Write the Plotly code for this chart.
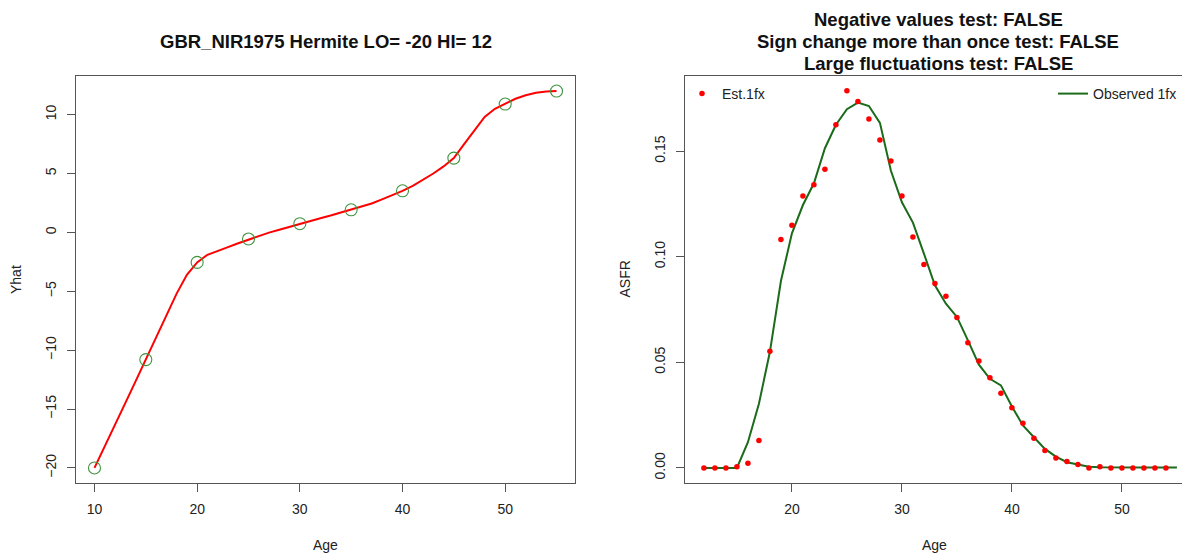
import plotly.graph_objects as go

# ---------------- data ----------------
# Left panel: knots (green circles) and Hermite curve (red)
knot_age = [10, 15, 20, 25, 30, 35, 40, 45, 50, 55]
knot_yhat = [-20.0, -10.8, -2.55, -0.56, 0.74, 1.92, 3.53, 6.31, 10.9, 12.0]

curve_age = list(range(10, 56))
curve_yhat = [-20.0, -18.2, -16.3, -14.5, -12.65, -10.8, -8.95, -7.1, -5.2, -3.6,
              -2.55, -1.9, -1.55, -1.25, -0.92, -0.6, -0.3, -0.02, 0.22, 0.48,
              0.74, 0.97, 1.2, 1.43, 1.67, 1.92, 2.15, 2.45, 2.8, 3.15,
              3.53, 3.95, 4.45, 5.0, 5.6, 6.31, 7.5, 8.7, 9.8, 10.5,
              10.9, 11.35, 11.65, 11.85, 11.97, 12.0]

# Right panel: estimated (red points) and observed (green line) ASFR
est_age = list(range(12, 55))
est_asfr = [0.0, 0.0, 0.0, 0.0005, 0.0022, 0.0130, 0.0552, 0.1082, 0.1149, 0.1288,
            0.1341, 0.1414, 0.1625, 0.1786, 0.1735, 0.1652, 0.1553, 0.1454, 0.1288, 0.1094,
            0.0963, 0.0873, 0.0813, 0.0712, 0.0593, 0.0506, 0.0427, 0.0354, 0.0285, 0.0212,
            0.0140, 0.0082, 0.0047, 0.0030, 0.0016, 0.0, 0.0005, 0.0, 0.0, 0.0,
            0.0, 0.0, 0.0]

obs_age = list(range(12, 56))
obs_asfr = [0.0, 0.0, 0.0, 0.0, 0.0122, 0.0304, 0.0550, 0.0885, 0.1111, 0.1245,
            0.1348, 0.1514, 0.1625, 0.1699, 0.1730, 0.1714, 0.1634, 0.1407, 0.1258, 0.1162,
            0.1015, 0.0865, 0.0778, 0.0715, 0.0604, 0.0489, 0.0422, 0.0391, 0.0291, 0.0201,
            0.0145, 0.0090, 0.0054, 0.0027, 0.0016, 0.0006, 0.0003, 0.0002, 0.0002, 0.0002,
            0.0002, 0.0002, 0.0002, 0.0002]

left_title = "GBR_NIR1975 Hermite LO= -20 HI= 12"
right_title = ["Negative values test: FALSE",
               "Sign change more than once test: FALSE",
               "Large fluctuations test: FALSE"]

# ---------------- layout geometry ----------------
W, H = 1182, 556
FONT = "Liberation Sans, Arial, sans-serif"
AX = "#555555"
TXT = "#222222"

def px_x(p):
    return p / W

def px_y(p):
    return 1 - p / H

box_top, box_bot = 76, 483
L0, L1 = 76, 575
R0 = 685

fig = go.Figure()

fig.add_trace(go.Scatter(x=curve_age, y=curve_yhat, mode="lines",
                         line=dict(color="#ff0000", width=2),
                         xaxis="x", yaxis="y", showlegend=False))
fig.add_trace(go.Scatter(x=knot_age, y=knot_yhat, mode="markers",
                         marker=dict(symbol="circle-open", size=12,
                                     color="#3f943f", line=dict(width=1.1)),
                         xaxis="x", yaxis="y", showlegend=False))

fig.add_trace(go.Scatter(x=obs_age, y=obs_asfr, mode="lines", name="Observed 1fx",
                         line=dict(color="#1b6b1b", width=2),
                         xaxis="x2", yaxis="y2", legend="legend2"))
fig.add_trace(go.Scatter(x=est_age, y=est_asfr, mode="markers", name="Est.1fx",
                         marker=dict(symbol="circle", size=5.5, color="#ff0000"),
                         xaxis="x2", yaxis="y2", legend="legend"))

axis_common = dict(showgrid=False, zeroline=False, showline=True, linecolor=AX,
                   linewidth=1, ticks="outside", ticklen=8, tickcolor=AX,
                   ticklabelstandoff=5,
                   tickfont=dict(family=FONT, size=14, color=TXT))

fig.update_layout(
    width=W, height=H,
    margin=dict(l=0, r=0, t=0, b=0),
    paper_bgcolor="white", plot_bgcolor="white",
    font=dict(family=FONT, color=TXT),
    xaxis=dict(domain=[px_x(L0), px_x(L1)], range=[8.2, 56.8],
               tickvals=[10, 20, 30, 40, 50], mirror=True, anchor="y", **axis_common),
    yaxis=dict(domain=[px_y(box_bot), px_y(box_top)], range=[-21.28, 13.28],
               tickvals=[-20, -15, -10, -5, 0, 5, 10], tickangle=-90, mirror=True,
               anchor="x", **axis_common),
    xaxis2=dict(domain=[px_x(R0), 1.0], range=[10.28, 10.28 + (W - R0) / 11.0],
                tickvals=[20, 30, 40, 50], mirror=True, anchor="y2", **axis_common),
    yaxis2=dict(domain=[px_y(box_bot), px_y(box_top)], range=[-0.00714, 0.1856],
                tickvals=[0, 0.05, 0.10, 0.15], tickformat=".2f", tickangle=-90,
                mirror=False, anchor="x2", **axis_common),
    legend=dict(x=px_x(R0 - 3), y=px_y(box_top + 2), xanchor="left", yanchor="top",
                bgcolor="rgba(0,0,0,0)", font=dict(family=FONT, size=14, color=TXT),
                itemwidth=30),
    legend2=dict(x=1.0, y=px_y(box_top + 2), xanchor="right", yanchor="top",
                 bgcolor="rgba(0,0,0,0)", font=dict(family=FONT, size=14, color=TXT),
                 itemwidth=30),
)

ann = []
ann.append(dict(text="<b>%s</b>" % left_title, x=px_x((L0 + L1) / 2), y=px_y(42),
                xref="paper", yref="paper", showarrow=False, xanchor="center",
                yanchor="middle", font=dict(family=FONT, size=18.5, color="#111111")))
for i, t in enumerate(right_title):
    ann.append(dict(text="<b>%s</b>" % t, x=px_x(938), y=px_y(19.5 + 22 * i),
                    xref="paper", yref="paper", showarrow=False, xanchor="center",
                    yanchor="middle", font=dict(family=FONT, size=18.5, color="#111111")))
ann.append(dict(text="Age", x=px_x((L0 + L1) / 2), y=px_y(545), xref="paper", yref="paper",
                showarrow=False, xanchor="center", yanchor="middle",
                font=dict(family=FONT, size=14, color=TXT)))
ann.append(dict(text="Age", x=px_x(934), y=px_y(545), xref="paper", yref="paper",
                showarrow=False, xanchor="center", yanchor="middle",
                font=dict(family=FONT, size=14, color=TXT)))
ann.append(dict(text="Yhat", x=px_x(15.5), y=px_y((box_top + box_bot) / 2), xref="paper",
                yref="paper", showarrow=False, textangle=-90, xanchor="center",
                yanchor="middle", font=dict(family=FONT, size=14, color=TXT)))
ann.append(dict(text="ASFR", x=px_x(624), y=px_y((box_top + box_bot) / 2), xref="paper",
                yref="paper", showarrow=False, textangle=-90, xanchor="center",
                yanchor="middle", font=dict(family=FONT, size=14, color=TXT)))
fig.update_layout(annotations=ann)

fig.write_html("out.html")
